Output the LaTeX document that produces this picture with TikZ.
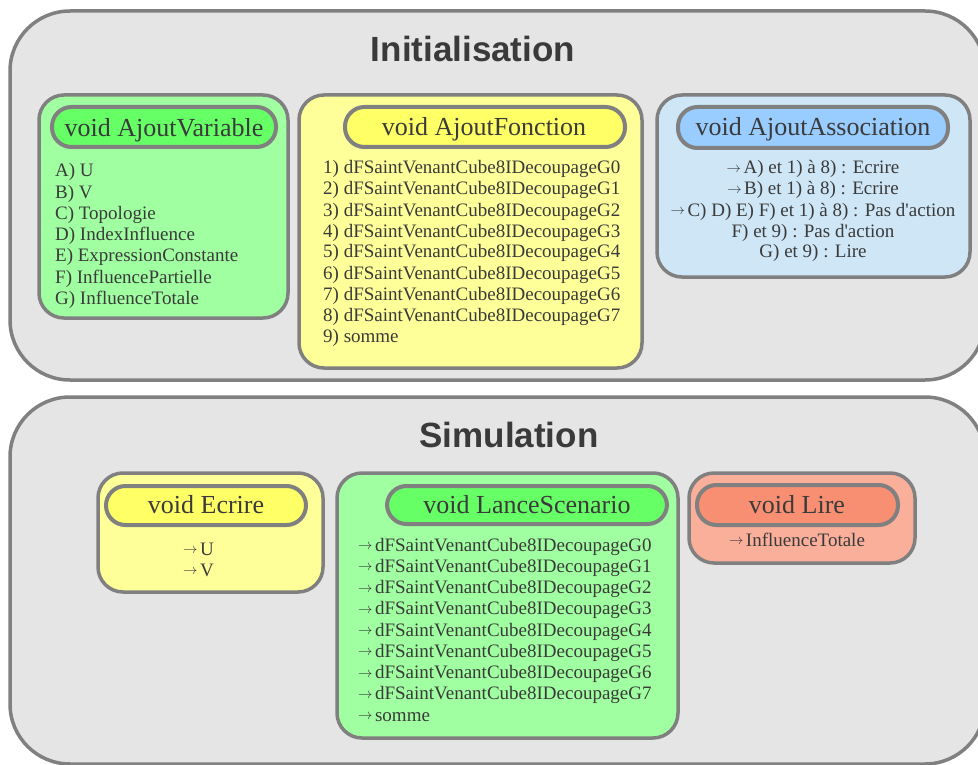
\documentclass[tikz,border=0pt]{standalone}
\usepackage{fontspec}
\setmainfont{Liberation Serif}[Ligatures=TeXOff]
\newfontfamily\titlefont{Liberation Sans}
\definecolor{linegray}{RGB}{128,128,128}
\definecolor{outerfill}{RGB}{229,229,229}
\definecolor{textgray}{RGB}{58,58,58}
\definecolor{greenbox}{RGB}{160,255,160}
\definecolor{greenpill}{RGB}{102,255,102}
\definecolor{yellowbox}{RGB}{255,255,153}
\definecolor{yellowpill}{RGB}{255,255,102}
\definecolor{bluebox}{RGB}{206,230,245}
\definecolor{bluepill}{RGB}{153,204,255}
\definecolor{redbox}{RGB}{250,175,155}
\definecolor{redpill}{RGB}{248,143,115}
\newcommand\arrw{\raisebox{1.5pt}{\fontsize{14}{14}\selectfont$\rightarrow$}\hspace{2.5pt}}
\begin{document}
\begin{tikzpicture}[x=1pt,y=-1pt,
  container/.style={rectangle,draw=linegray,line width=3.5pt,fill=outerfill,rounded corners=60pt,inner sep=0pt},
  boxstyle/.style={rectangle,draw=linegray,line width=3.5pt,rounded corners=25pt,inner sep=0pt},
  pillstyle/.style={rectangle,draw=linegray,line width=4pt,rounded corners=19.5pt,inner sep=0pt},
  txt/.style={inner sep=0pt,text=textgray,font=\fontsize{19}{21}\selectfont},
  ptxt/.style={inner sep=0pt,text=textgray,font=\fontsize{26}{30}\selectfont},
  ttxt/.style={inner sep=0pt,text=textgray,font=\fontsize{35}{40}\titlefont\bfseries}]
\useasboundingbox (0,0) rectangle (978,765);
% containers
\node[container,minimum width=975pt,minimum height=369pt] (init) at (497.5,195.5) {};
\node[container,minimum width=975pt,minimum height=367pt] (simu) at (497.5,580.5) {};
\node[ttxt,anchor=base] (tinit) at (473,62) {Initialisation};
\node[ttxt,anchor=base] (tsimu) at (509,447) {Simulation};
% AjoutVariable
\node[boxstyle,fill=greenbox,minimum width=249pt,minimum height=223pt] (bAV) at (163.5,206.5) {};
\node[pillstyle,fill=greenpill,minimum width=224pt,minimum height=40pt] (pAV) at (164,127) {};
\node[ptxt,anchor=base] (tAV) at (164,137) {void AjoutVariable};
\foreach \t [count=\i from 0] in {A) U,B) V,C) Topologie,D) IndexInfluence,E) ExpressionConstante,F) InfluencePartielle,G) InfluenceTotale}
  \node[txt,anchor=base west] (av\i) at (55,{177+21.2*\i}) {\t};
% AjoutFonction
\node[boxstyle,fill=yellowbox,minimum width=343pt,minimum height=273pt] (bAF) at (470.5,231.5) {};
\node[pillstyle,fill=yellowpill,minimum width=280pt,minimum height=40pt] (pAF) at (485,127) {};
\node[ptxt,anchor=base] (tAF) at (484,136) {void AjoutFonction};
\foreach \t [count=\i from 0] in {1) dFSaintVenantCube8IDecoupageG0,2) dFSaintVenantCube8IDecoupageG1,3) dFSaintVenantCube8IDecoupageG2,4) dFSaintVenantCube8IDecoupageG3,5) dFSaintVenantCube8IDecoupageG4,6) dFSaintVenantCube8IDecoupageG5,7) dFSaintVenantCube8IDecoupageG6,8) dFSaintVenantCube8IDecoupageG7,9) somme}
  \node[txt,anchor=base west] (af\i) at (323,{174+21*\i}) {\t};
% AjoutAssociation
\node[boxstyle,fill=bluebox,minimum width=313pt,minimum height=182pt] (bAA) at (813.5,186) {};
\node[pillstyle,fill=bluepill,minimum width=270pt,minimum height=41pt] (pAA) at (813,127.5) {};
\node[ptxt,anchor=base] (tAA) at (813,136) {void AjoutAssociation};
\foreach \t [count=\i from 0] in {\arrw A) et 1) à 8) : Ecrire,\arrw B) et 1) à 8) : Ecrire,\arrw C) D) E) F) et 1) à 8) : Pas d'action,F) et 9) : Pas d'action,G) et 9) : Lire}
  \node[txt,anchor=base] (aa\i) at (813,{174+21*\i}) {\t};
% Ecrire
\node[boxstyle,fill=yellowbox,minimum width=225pt,minimum height=119pt] (bEC) at (210.5,532.5) {};
\node[pillstyle,fill=yellowpill,minimum width=200pt,minimum height=39pt] (pEC) at (206,505.5) {};
\node[ptxt,anchor=base] (tEC) at (206,513) {void Ecrire};
\node[txt,anchor=base west] (ec0) at (183,555) {\arrw U};
\node[txt,anchor=base west] (ec1) at (183,576) {\arrw V};
% LanceScenario
\node[boxstyle,fill=greenbox,minimum width=341pt,minimum height=265pt] (bLS) at (507.5,605.5) {};
\node[pillstyle,fill=greenpill,minimum width=280pt,minimum height=38pt] (pLS) at (527,505) {};
\node[ptxt,anchor=base] (tLS) at (527,513) {void LanceScenario};
\foreach \t [count=\i from 0] in {dFSaintVenantCube8IDecoupageG0,dFSaintVenantCube8IDecoupageG1,dFSaintVenantCube8IDecoupageG2,dFSaintVenantCube8IDecoupageG3,dFSaintVenantCube8IDecoupageG4,dFSaintVenantCube8IDecoupageG5,dFSaintVenantCube8IDecoupageG6,dFSaintVenantCube8IDecoupageG7,somme}
  \node[txt,anchor=base west] (ls\i) at (358,{551+21.25*\i}) {\arrw\t};
% Lire
\node[boxstyle,fill=redbox,minimum width=226pt,minimum height=90pt] (bLI) at (802,518) {};
\node[pillstyle,fill=redpill,minimum width=201pt,minimum height=40pt] (pLI) at (797.5,505) {};
\node[ptxt,anchor=base] (tLI) at (797,513) {void Lire};
\node[txt,anchor=base] (li0) at (797,546) {\arrw InfluenceTotale};
\end{tikzpicture}
\end{document}
